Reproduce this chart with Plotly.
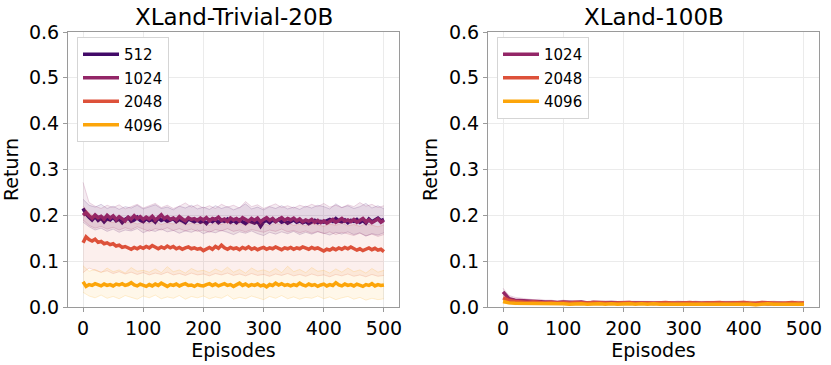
import numpy as np
import plotly.graph_objects as go

# episodes: means sampled every 5 (left) / every 10 (bands and right panel)
ep5 = np.arange(0, 501, 5)
ep10 = np.arange(0, 501, 10)

# ---- XLand-Trivial-20B : mean return per context length ----
triv_512 = [0.215, 0.203, 0.196, 0.190, 0.197, 0.189, 0.194, 0.186, 0.193, 0.190,
            0.196, 0.188, 0.192, 0.184, 0.191, 0.195, 0.187, 0.190, 0.196, 0.189,
            0.186, 0.193, 0.188, 0.191, 0.185, 0.194, 0.189, 0.192, 0.187, 0.190,
            0.193, 0.186, 0.191, 0.188, 0.184, 0.192, 0.189, 0.186, 0.190, 0.185,
            0.188, 0.182, 0.190, 0.186, 0.191, 0.184, 0.189, 0.187, 0.192, 0.185,
            0.189, 0.184, 0.190, 0.186, 0.182, 0.188, 0.185, 0.183, 0.187, 0.176,
            0.186, 0.189, 0.184, 0.190, 0.186, 0.191, 0.185, 0.188, 0.183, 0.187,
            0.190, 0.185, 0.188, 0.184, 0.187, 0.182, 0.186, 0.189, 0.184, 0.187,
            0.185, 0.189, 0.191, 0.187, 0.193, 0.188, 0.186, 0.190, 0.184, 0.189,
            0.187, 0.191, 0.185, 0.189, 0.183, 0.192, 0.186, 0.190, 0.194, 0.188,
            0.191]
triv_1024 = [0.200, 0.206, 0.199, 0.194, 0.201, 0.195, 0.198, 0.192, 0.200, 0.194,
             0.199, 0.191, 0.197, 0.193, 0.188, 0.196, 0.192, 0.199, 0.193, 0.197,
             0.191, 0.196, 0.192, 0.198, 0.190, 0.195, 0.201, 0.193, 0.197, 0.191,
             0.194, 0.190, 0.197, 0.192, 0.188, 0.195, 0.191, 0.193, 0.189, 0.194,
             0.190, 0.195, 0.188, 0.193, 0.191, 0.196, 0.189, 0.192, 0.187, 0.194,
             0.190, 0.193, 0.188, 0.195, 0.191, 0.187, 0.193, 0.189, 0.194, 0.186,
             0.191, 0.195, 0.189, 0.193, 0.187, 0.192, 0.195, 0.189, 0.193, 0.190,
             0.194, 0.188, 0.192, 0.186, 0.190, 0.187, 0.191, 0.185, 0.189, 0.184,
             0.188, 0.183, 0.187, 0.191, 0.185, 0.189, 0.193, 0.187, 0.190, 0.186,
             0.191, 0.185, 0.189, 0.193, 0.186, 0.190, 0.184, 0.188, 0.192, 0.185,
             0.189]
triv_2048 = [0.140, 0.153, 0.147, 0.144, 0.148, 0.141, 0.143, 0.138, 0.140, 0.136,
             0.138, 0.133, 0.135, 0.130, 0.132, 0.129, 0.126, 0.130, 0.127, 0.131,
             0.128, 0.132, 0.129, 0.134, 0.130, 0.127, 0.131, 0.128, 0.133, 0.129,
             0.132, 0.127, 0.130, 0.126, 0.129, 0.131, 0.127, 0.129, 0.126, 0.128,
             0.123, 0.127, 0.130, 0.126, 0.132, 0.128, 0.135, 0.129, 0.126, 0.130,
             0.127, 0.129, 0.125, 0.130, 0.127, 0.131, 0.126, 0.129, 0.125, 0.128,
             0.130, 0.126, 0.129, 0.127, 0.131, 0.128, 0.125, 0.129, 0.127, 0.130,
             0.126, 0.129, 0.127, 0.131, 0.128, 0.126, 0.130, 0.127, 0.129, 0.125,
             0.122, 0.126, 0.124, 0.128, 0.125, 0.129, 0.126, 0.130, 0.127, 0.131,
             0.128, 0.124, 0.127, 0.123, 0.126, 0.129, 0.125, 0.128, 0.124, 0.126,
             0.121]
triv_4096 = [0.055, 0.045, 0.049, 0.047, 0.051, 0.048, 0.046, 0.050, 0.047, 0.049,
             0.046, 0.050, 0.048, 0.051, 0.047, 0.049, 0.053, 0.048, 0.046, 0.050,
             0.047, 0.045, 0.049, 0.046, 0.050, 0.047, 0.052, 0.048, 0.045, 0.049,
             0.047, 0.050, 0.046, 0.049, 0.051, 0.047, 0.048, 0.045, 0.049, 0.047,
             0.046, 0.049, 0.051, 0.047, 0.050, 0.046, 0.048, 0.051, 0.047, 0.049,
             0.045, 0.049, 0.052, 0.047, 0.050, 0.046, 0.049, 0.047, 0.050, 0.046,
             0.048, 0.044, 0.049, 0.047, 0.052, 0.048, 0.051, 0.047, 0.049, 0.046,
             0.049, 0.047, 0.052, 0.048, 0.046, 0.050, 0.047, 0.049, 0.045, 0.048,
             0.050, 0.046, 0.049, 0.047, 0.053, 0.048, 0.046, 0.050, 0.047, 0.049,
             0.046, 0.050, 0.048, 0.045, 0.049, 0.047, 0.051, 0.046, 0.049, 0.047,
             0.048]

# spread bands (upper / lower), every 10 episodes
triv_512_hi = [0.235, 0.222, 0.218, 0.224, 0.215, 0.220, 0.213, 0.219, 0.216, 0.222,
               0.214, 0.219, 0.223, 0.215, 0.218, 0.212, 0.220, 0.216, 0.222, 0.214,
               0.218, 0.213, 0.221, 0.215, 0.219, 0.212, 0.217, 0.225, 0.214, 0.218,
               0.212, 0.219, 0.215, 0.221, 0.214, 0.218, 0.213, 0.220, 0.216, 0.222,
               0.219, 0.214, 0.225, 0.217, 0.221, 0.215, 0.219, 0.226, 0.216, 0.221,
               0.214]
triv_512_lo = [0.185, 0.175, 0.168, 0.172, 0.165, 0.170, 0.163, 0.168, 0.166, 0.171,
               0.162, 0.168, 0.165, 0.170, 0.164, 0.167, 0.161, 0.166, 0.163, 0.168,
               0.160, 0.165, 0.162, 0.167, 0.163, 0.158, 0.164, 0.161, 0.166, 0.160,
               0.156, 0.163, 0.159, 0.164, 0.160, 0.165, 0.158, 0.163, 0.159, 0.164,
               0.161, 0.157, 0.163, 0.159, 0.164, 0.158, 0.162, 0.155, 0.160, 0.157,
               0.162]
triv_1024_hi = [0.272, 0.228, 0.220, 0.215, 0.222, 0.217, 0.223, 0.214, 0.219, 0.224,
                0.216, 0.221, 0.226, 0.217, 0.222, 0.215, 0.220, 0.227, 0.218, 0.223,
                0.216, 0.221, 0.215, 0.224, 0.218, 0.222, 0.216, 0.230, 0.219, 0.223,
                0.215, 0.220, 0.225, 0.217, 0.221, 0.216, 0.222, 0.218, 0.224, 0.219,
                0.226, 0.218, 0.222, 0.217, 0.223, 0.219, 0.228, 0.220, 0.224, 0.217,
                0.221]
triv_1024_lo = [0.190, 0.178, 0.172, 0.176, 0.170, 0.174, 0.168, 0.173, 0.169, 0.175,
                0.170, 0.165, 0.171, 0.168, 0.173, 0.167, 0.171, 0.166, 0.170, 0.165,
                0.168, 0.163, 0.169, 0.166, 0.171, 0.165, 0.168, 0.164, 0.169, 0.166,
                0.163, 0.168, 0.165, 0.170, 0.164, 0.167, 0.162, 0.166, 0.161, 0.165,
                0.160, 0.164, 0.158, 0.163, 0.160, 0.156, 0.161, 0.155, 0.159, 0.154,
                0.158]
triv_2048_hi = [0.220, 0.205, 0.196, 0.190, 0.187, 0.184, 0.188, 0.183, 0.186, 0.181,
                0.185, 0.182, 0.187, 0.180, 0.184, 0.181, 0.186, 0.179, 0.183, 0.180,
                0.184, 0.178, 0.183, 0.180, 0.185, 0.179, 0.182, 0.178, 0.184, 0.180,
                0.182, 0.177, 0.183, 0.179, 0.184, 0.178, 0.181, 0.177, 0.182, 0.179,
                0.176, 0.181, 0.178, 0.183, 0.177, 0.180, 0.176, 0.182, 0.178, 0.175,
                0.179]
triv_2048_lo = [0.075, 0.085, 0.080, 0.076, 0.079, 0.073, 0.077, 0.072, 0.076, 0.071,
                0.075, 0.070, 0.074, 0.071, 0.076, 0.070, 0.073, 0.069, 0.074, 0.070,
                0.072, 0.068, 0.073, 0.070, 0.074, 0.069, 0.072, 0.068, 0.073, 0.069,
                0.071, 0.067, 0.072, 0.069, 0.073, 0.068, 0.071, 0.067, 0.072, 0.068,
                0.070, 0.066, 0.071, 0.068, 0.072, 0.067, 0.070, 0.066, 0.071, 0.067,
                0.069]
triv_4096_hi = [0.090, 0.078, 0.082, 0.075, 0.085, 0.077, 0.081, 0.074, 0.086, 0.078,
                0.080, 0.076, 0.083, 0.075, 0.088, 0.077, 0.081, 0.074, 0.084, 0.078,
                0.080, 0.075, 0.083, 0.077, 0.087, 0.076, 0.082, 0.074, 0.085, 0.078,
                0.081, 0.076, 0.084, 0.075, 0.089, 0.077, 0.082, 0.075, 0.086, 0.078,
                0.080, 0.074, 0.083, 0.076, 0.085, 0.077, 0.081, 0.074, 0.084, 0.076,
                0.080]
triv_4096_lo = [0.032, 0.024, 0.020, 0.026, 0.019, 0.023, 0.018, 0.025, 0.021, 0.017,
                0.024, 0.020, 0.026, 0.018, 0.022, 0.019, 0.025, 0.017, 0.023, 0.020,
                0.024, 0.018, 0.022, 0.019, 0.026, 0.017, 0.021, 0.018, 0.024, 0.020,
                0.016, 0.023, 0.019, 0.025, 0.018, 0.022, 0.017, 0.021, 0.019, 0.024,
                0.018, 0.022, 0.016, 0.020, 0.023, 0.017, 0.021, 0.015, 0.019, 0.016,
                0.018]

# ---- XLand-100B : mean return, every 10 episodes ----
big_1024 = [0.033, 0.018, 0.015, 0.014, 0.013, 0.012, 0.012, 0.011, 0.011, 0.010,
            0.011, 0.010, 0.010, 0.011, 0.009, 0.010, 0.010, 0.009, 0.010, 0.009,
            0.010, 0.009, 0.009, 0.010, 0.009, 0.008, 0.009, 0.009, 0.008, 0.009,
            0.009, 0.008, 0.009, 0.008, 0.009, 0.008, 0.008, 0.009, 0.008, 0.008,
            0.009, 0.007, 0.008, 0.008, 0.007, 0.008, 0.008, 0.007, 0.008, 0.007,
            0.008]
big_2048 = [0.020, 0.014, 0.012, 0.011, 0.010, 0.011, 0.010, 0.009, 0.010, 0.009,
            0.010, 0.009, 0.010, 0.009, 0.009, 0.010, 0.009, 0.009, 0.008, 0.009,
            0.009, 0.010, 0.008, 0.009, 0.009, 0.008, 0.009, 0.010, 0.009, 0.008,
            0.009, 0.010, 0.009, 0.008, 0.009, 0.009, 0.010, 0.008, 0.009, 0.009,
            0.010, 0.009, 0.008, 0.010, 0.009, 0.009, 0.008, 0.009, 0.010, 0.009,
            0.009]
big_4096 = [0.012, 0.009, 0.008, 0.008, 0.007, 0.008, 0.007, 0.007, 0.008, 0.007,
            0.007, 0.006, 0.007, 0.007, 0.006, 0.007, 0.007, 0.006, 0.007, 0.006,
            0.007, 0.007, 0.006, 0.007, 0.006, 0.007, 0.006, 0.006, 0.007, 0.006,
            0.007, 0.006, 0.006, 0.007, 0.006, 0.006, 0.007, 0.006, 0.006, 0.007,
            0.006, 0.006, 0.005, 0.006, 0.007, 0.006, 0.006, 0.005, 0.006, 0.006,
            0.006]
# half-width of the shaded spread
big_1024_sd = [0.008, 0.007, 0.006, 0.005, 0.005, 0.004, 0.005, 0.004, 0.004, 0.003,
               0.004, 0.003, 0.004, 0.003, 0.003, 0.004, 0.003, 0.003, 0.004, 0.003,
               0.003, 0.004, 0.003, 0.003, 0.003, 0.004, 0.003, 0.003, 0.003, 0.004,
               0.003, 0.003, 0.004, 0.003, 0.003, 0.003, 0.004, 0.003, 0.003, 0.003,
               0.004, 0.003, 0.003, 0.003, 0.004, 0.003, 0.003, 0.003, 0.003, 0.004,
               0.003]
big_2048_sd = [0.006, 0.005, 0.004, 0.004, 0.003, 0.004, 0.003, 0.003, 0.004, 0.003,
               0.003, 0.003, 0.004, 0.003, 0.003, 0.003, 0.004, 0.003, 0.003, 0.003,
               0.004, 0.003, 0.003, 0.003, 0.003, 0.004, 0.003, 0.003, 0.003, 0.004,
               0.003, 0.003, 0.003, 0.004, 0.003, 0.003, 0.003, 0.004, 0.003, 0.003,
               0.003, 0.004, 0.003, 0.003, 0.003, 0.004, 0.003, 0.003, 0.003, 0.004,
               0.003]
big_4096_sd = [0.004, 0.003, 0.003, 0.003, 0.002, 0.003, 0.002, 0.002, 0.003, 0.002,
               0.002, 0.002, 0.003, 0.002, 0.002, 0.002, 0.003, 0.002, 0.002, 0.002,
               0.003, 0.002, 0.002, 0.002, 0.002, 0.003, 0.002, 0.002, 0.002, 0.003,
               0.002, 0.002, 0.002, 0.003, 0.002, 0.002, 0.002, 0.003, 0.002, 0.002,
               0.002, 0.003, 0.002, 0.002, 0.002, 0.003, 0.002, 0.002, 0.002, 0.003,
               0.002]

colors = {"512": (66, 10, 104), "1024": (147, 38, 103),
          "2048": (221, 81, 58), "4096": (252, 165, 10)}


def rgba(name, a):
    r, g, b = colors[name]
    return f"rgba({r},{g},{b},{a})"


fig = go.Figure()


def add_series(name, x, y, xb, lo, hi, xa, ya, legend):
    group = f"{legend}-{name}"
    fig.add_trace(go.Scatter(x=xb, y=lo, mode="lines", xaxis=xa, yaxis=ya,
                             line=dict(color=rgba(name, 0.18), width=1),
                             legendgroup=group, showlegend=False, hoverinfo="skip"))
    fig.add_trace(go.Scatter(x=xb, y=hi, mode="lines", xaxis=xa, yaxis=ya,
                             fill="tonexty", fillcolor=rgba(name, 0.09),
                             line=dict(color=rgba(name, 0.18), width=1),
                             legendgroup=group, showlegend=False, hoverinfo="skip"))
    fig.add_trace(go.Scatter(x=x, y=y, mode="lines", name=name, xaxis=xa, yaxis=ya,
                             line=dict(color=rgba(name, 1), width=3.5),
                             legendgroup=group, legend=legend))


add_series("512", ep5, triv_512, ep10, triv_512_lo, triv_512_hi, "x", "y", "legend")
add_series("1024", ep5, triv_1024, ep10, triv_1024_lo, triv_1024_hi, "x", "y", "legend")
add_series("2048", ep5, triv_2048, ep10, triv_2048_lo, triv_2048_hi, "x", "y", "legend")
add_series("4096", ep5, triv_4096, ep10, triv_4096_lo, triv_4096_hi, "x", "y", "legend")

for name, m, sd in [("1024", big_1024, big_1024_sd),
                    ("2048", big_2048, big_2048_sd),
                    ("4096", big_4096, big_4096_sd)]:
    lo = np.array(m) - np.array(sd)
    hi = np.array(m) + np.array(sd)
    add_series(name, ep10, m, ep10, lo, hi, "x2", "y2", "legend2")

FONT = "DejaVu Sans"
axis_common = dict(range=[-25, 525], tickvals=[0, 100, 200, 300, 400, 500],
                   automargin=False,
                   showgrid=True, gridcolor="#ebebeb", zeroline=False,
                   showline=True, linecolor="#9a9a9a", mirror=True,
                   ticks="outside", ticklen=4, tickcolor="#9a9a9a",
                   tickfont=dict(size=19, color="black"),
                   title=dict(text="Episodes", font=dict(size=19, color="black"), standoff=2))
yaxis_common = dict(range=[0, 0.6], dtick=0.1, tickformat=".1f",
                    automargin=False,
                    showgrid=True, gridcolor="#ebebeb", zeroline=False,
                    showline=True, linecolor="#9a9a9a", mirror=True,
                    ticks="outside", ticklen=4, tickcolor="#9a9a9a",
                    tickfont=dict(size=19, color="black"),
                    title=dict(text="Return", font=dict(size=19, color="black"), standoff=6))

legend_common = dict(xanchor="left", yanchor="top", traceorder="grouped",
                     tracegroupgap=1, itemwidth=36, bgcolor="white",
                     bordercolor="#d5d5d5", borderwidth=1,
                     font=dict(size=15, color="black"))

W, H = 831, 365
fig.update_layout(
    width=W, height=H,
    margin=dict(l=0, r=0, t=0, b=0),
    paper_bgcolor="white", plot_bgcolor="white",
    font=dict(family=FONT, color="black"),
    xaxis=dict(domain=[68 / W, 399 / W], anchor="y", **axis_common),
    yaxis=dict(domain=[1 - 307 / H, 1 - 32 / H], anchor="x", **yaxis_common),
    xaxis2=dict(domain=[488 / W, 819 / W], anchor="y2", **axis_common),
    yaxis2=dict(domain=[1 - 307 / H, 1 - 32 / H], anchor="x2", **yaxis_common),
    legend=dict(x=77 / W, y=1 - 37 / H, **legend_common),
    legend2=dict(x=497 / W, y=1 - 37 / H, **legend_common),
    annotations=[
        dict(text="XLand-Trivial-20B", x=(68 + 399) / 2 / W, y=1 - 17 / H,
             xref="paper", yref="paper", xanchor="center", yanchor="middle",
             showarrow=False, font=dict(size=23)),
        dict(text="XLand-100B", x=(488 + 819) / 2 / W, y=1 - 17 / H,
             xref="paper", yref="paper", xanchor="center", yanchor="middle",
             showarrow=False, font=dict(size=23)),
    ],
)

# drop the browser's default body margin so the figure sits at the page corner
fig.write_html("out.html", config={"displayModeBar": False},
               post_script="document.body.style.margin='0';")
